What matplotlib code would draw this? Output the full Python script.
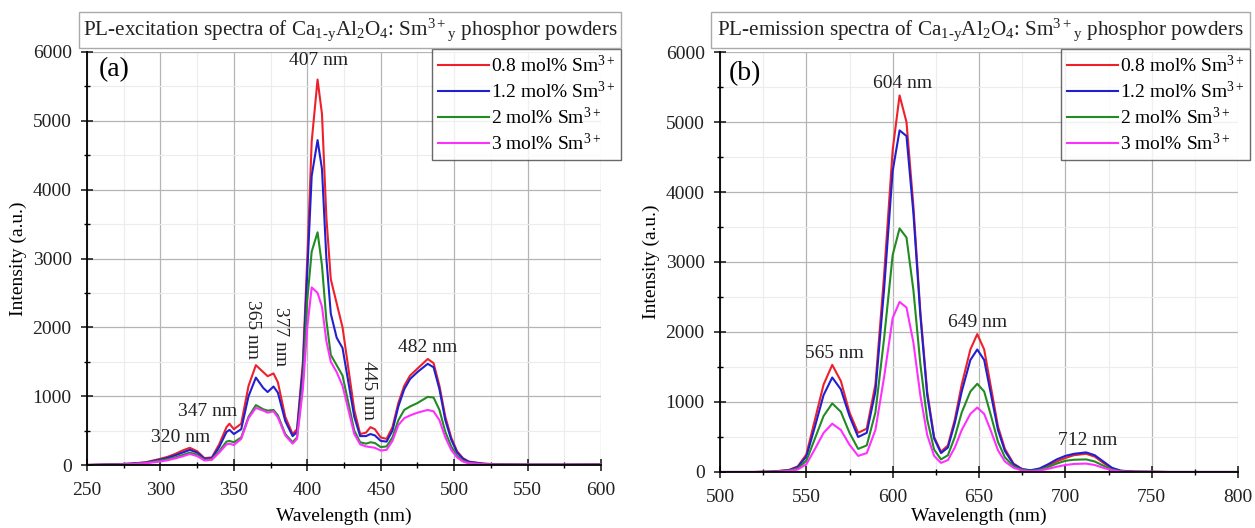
import matplotlib
matplotlib.use("Agg")
import matplotlib.pyplot as plt
from matplotlib.patches import Rectangle
from matplotlib.ticker import MultipleLocator

plt.rcParams['font.family'] = ['Liberation Serif', 'DejaVu Serif']
plt.rcParams['mathtext.fontset'] = 'custom'
plt.rcParams['mathtext.rm'] = 'Liberation Serif'
plt.rcParams['mathtext.it'] = 'Liberation Serif:italic'
plt.rcParams['mathtext.bf'] = 'Liberation Serif:bold'

# ---------------- data ----------------
labels = ["0.8 mol% Sm$^{3+}$", "1.2 mol% Sm$^{3+}$", "2 mol% Sm$^{3+}$", "3 mol% Sm$^{3+}$"]
colors = ["#f0202a", "#2020d0", "#228B22", "#ff30ff"]

exc_wl = [250, 260, 270, 280, 290, 300, 305, 310, 315, 320, 325, 330, 335, 340, 345, 347,
          350, 355, 360, 365, 370, 373, 377, 380, 385, 390, 393, 397, 400, 403, 407, 410,
          413, 416, 420, 424, 428, 432, 436, 440, 443, 446, 450, 454, 458, 462, 466, 470,
          475, 482, 486, 490, 494, 498, 502, 506, 510, 520, 530, 550, 575, 600]
exc_08 = [0, 5, 10, 20, 40, 90, 120, 160, 210, 250, 200, 100, 110, 300, 550, 600,
          520, 600, 1150, 1450, 1350, 1290, 1330, 1200, 700, 450, 520, 1500, 3000, 4700, 5600, 5100,
          3600, 2700, 2350, 2000, 1400, 800, 450, 470, 550, 520, 400, 380, 550, 900, 1150, 1300,
          1400, 1540, 1480, 1150, 700, 400, 200, 100, 50, 20, 10, 5, 5, 10]
exc_12 = [0, 5, 10, 20, 35, 80, 105, 140, 180, 220, 180, 90, 100, 260, 480, 510,
          450, 520, 1000, 1270, 1120, 1060, 1140, 1050, 640, 420, 480, 1400, 2800, 4200, 4720, 4300,
          3000, 2200, 1850, 1700, 1200, 700, 420, 420, 450, 430, 350, 340, 500, 850, 1100, 1250,
          1350, 1470, 1420, 1100, 650, 370, 180, 90, 45, 18, 8, 5, 5, 8]
exc_2 = [0, 4, 8, 15, 30, 65, 85, 110, 145, 180, 150, 75, 85, 200, 340, 350,
         330, 400, 700, 870, 810, 790, 800, 720, 450, 330, 400, 1200, 2400, 3100, 3380, 2900,
         2100, 1600, 1450, 1300, 900, 500, 330, 310, 330, 320, 260, 270, 400, 650, 800, 850,
         900, 990, 980, 800, 480, 270, 130, 60, 30, 12, 6, 4, 4, 6]
exc_3 = [0, 3, 6, 12, 25, 50, 70, 95, 125, 160, 130, 65, 75, 180, 300, 310,
         290, 380, 680, 830, 790, 760, 780, 690, 430, 310, 380, 1100, 2000, 2580, 2500, 2300,
         1800, 1500, 1350, 1150, 800, 450, 300, 270, 260, 250, 210, 220, 350, 580, 680, 720,
         760, 800, 780, 650, 400, 220, 110, 50, 25, 10, 5, 3, 3, 5]

em_wl = [500, 520, 530, 540, 545, 550, 555, 560, 565, 570, 575, 580, 585, 590, 595, 600,
         604, 608, 612, 616, 620, 624, 628, 632, 636, 640, 645, 649, 653, 657, 661, 665,
         670, 675, 680, 685, 690, 695, 700, 705, 712, 717, 722, 727, 732, 740, 760, 780, 800]
em_08 = [0, 0, 5, 30, 80, 250, 750, 1250, 1530, 1300, 850, 560, 620, 1250, 2800, 4600,
         5380, 5000, 3800, 2300, 1150, 500, 290, 380, 750, 1250, 1750, 1970, 1750, 1200, 650, 330,
         120, 40, 20, 40, 90, 150, 200, 240, 260, 220, 130, 50, 15, 5, 0, 0, 0]
em_12 = [0, 0, 5, 25, 70, 220, 650, 1100, 1350, 1180, 800, 500, 560, 1150, 2600, 4300,
         4880, 4800, 3700, 2250, 1100, 480, 270, 350, 700, 1150, 1600, 1750, 1600, 1100, 600, 300,
         110, 40, 25, 50, 110, 180, 230, 260, 280, 240, 150, 60, 20, 5, 0, 0, 0]
em_2 = [0, 0, 4, 20, 50, 160, 480, 800, 980, 860, 560, 330, 380, 850, 1900, 3100,
        3480, 3350, 2600, 1550, 750, 320, 180, 240, 500, 850, 1150, 1260, 1150, 800, 430, 210,
        80, 30, 15, 30, 70, 120, 160, 175, 180, 150, 90, 35, 10, 3, 0, 0, 0]
em_3 = [0, 0, 3, 15, 35, 110, 330, 560, 690, 600, 390, 230, 270, 600, 1350, 2200,
        2430, 2350, 1850, 1100, 530, 230, 130, 170, 350, 600, 830, 920, 830, 580, 310, 150,
        60, 20, 10, 20, 45, 75, 100, 115, 120, 100, 60, 25, 8, 2, 0, 0, 0]

exc_ann = [("407 nm", 408, 5870, 0), ("320 nm", 314, 405, 0), ("347 nm", 332, 770, 0),
           ("365 nm", 363, 1965, -90), ("377 nm", 381.5, 1870, -90),
           ("445 nm", 442, 1080, -90), ("482 nm", 482, 1700, 0)]
em_ann = [("604 nm", 606, 5550, 0), ("565 nm", 566, 1690, 0),
          ("649 nm", 649, 2130, 0), ("712 nm", 713, 443, 0)]

titles = [r"PL-excitation spectra of Ca$_{\mathrm{1\text{-}y}}$Al$_2$O$_4$: Sm$^{3+}{}_{\mathrm{y}}$ phosphor powders",
          r"PL-emission spectra of Ca$_{\mathrm{1\text{-}y}}$Al$_2$O$_4$: Sm$^{3+}{}_{\mathrm{y}}$ phosphor powders"]

W, H = 1255, 528
fig = plt.figure(figsize=(W / 100, H / 100), dpi=100)


def fx(p):
    return p / W


def fy(p):
    return 1 - p / H


ax1 = fig.add_axes([fx(87), fy(465), fx(601 - 87), (465 - 52) / H])
ax2 = fig.add_axes([fx(720), fy(472), fx(1238 - 720), (472 - 52) / H])


def style(ax, xlim, xmaj, xmin, bottom_px):
    ax.set_xlim(*xlim)
    ax.set_ylim(0, 6000)
    ax.xaxis.set_major_locator(MultipleLocator(xmaj))
    ax.xaxis.set_minor_locator(MultipleLocator(xmin))
    ax.yaxis.set_major_locator(MultipleLocator(1000))
    ax.yaxis.set_minor_locator(MultipleLocator(500))
    ax.grid(True, which='major', color='#b5b5b5', lw=0.9)
    ax.grid(True, which='minor', color='#ececec', lw=0.8)
    ax.set_axisbelow(True)
    for s in ['top', 'right']:
        ax.spines[s].set_visible(False)
    for s in ['left', 'bottom']:
        ax.spines[s].set_linewidth(1.3)
    ax.tick_params(which='major', direction='inout', length=8, width=1.2, labelsize=14,
                   colors='#222222')
    ax.tick_params(axis='x', which='major', pad=8)
    ax.tick_params(axis='y', which='major', pad=7)
    ax.tick_params(which='minor', direction='inout', length=5, width=1.0)
    ax.set_xlabel("Wavelength (nm)", fontsize=14)
    ax.set_ylabel("Intensity (a.u.)", fontsize=14, labelpad=4)
    h = bottom_px - 52
    ax.xaxis.set_label_coords(0.5, (bottom_px - 508) / h)


style(ax1, (250, 600), 50, 25, 465)
style(ax2, (500, 800), 50, 25, 472)

for ys, c, lab in zip([exc_08, exc_12, exc_2, exc_3], colors, labels):
    ax1.plot(exc_wl, ys, color=c, lw=1.5, label=lab)
for ys, c, lab in zip([em_08, em_12, em_2, em_3], colors, labels):
    ax2.plot(em_wl, ys, color=c, lw=1.5, label=lab)

for ax, anns in [(ax1, exc_ann), (ax2, em_ann)]:
    for t, x, y, r in anns:
        ax.text(x, y, t, ha='center', va='center', rotation=r, fontsize=14, color='#222222')

ax1.text(258, 5750, "(a)", fontsize=20, ha='left', va='center')
ax2.text(505, 5690, "(b)", fontsize=20, ha='left', va='center')

for ax, anchor in [(ax1, (fx(621), fy(49))), (ax2, (fx(1250), fy(49)))]:
    leg = ax.legend(loc='upper right', bbox_to_anchor=anchor, bbox_transform=fig.transFigure,
                    fontsize=14, frameon=True, fancybox=False, handlelength=2.6,
                    handletextpad=0.1, borderpad=0.3, labelspacing=0.25, borderaxespad=0)
    leg.get_frame().set_edgecolor('#444444')
    leg.get_frame().set_linewidth(1.0)

for (x0, x1), t in zip([(79, 621), (711, 1250)], titles):
    fig.patches.append(Rectangle((fx(x0), fy(48)), fx(x1 - x0), 36 / H, transform=fig.transFigure,
                                 fill=False, edgecolor='#aaaaaa', lw=1.0))
    fig.text(fx((x0 + x1) / 2), fy(30), t, ha='center', va='center', fontsize=15.2,
             color='#222222')

fig.savefig("out.png", dpi=100)
